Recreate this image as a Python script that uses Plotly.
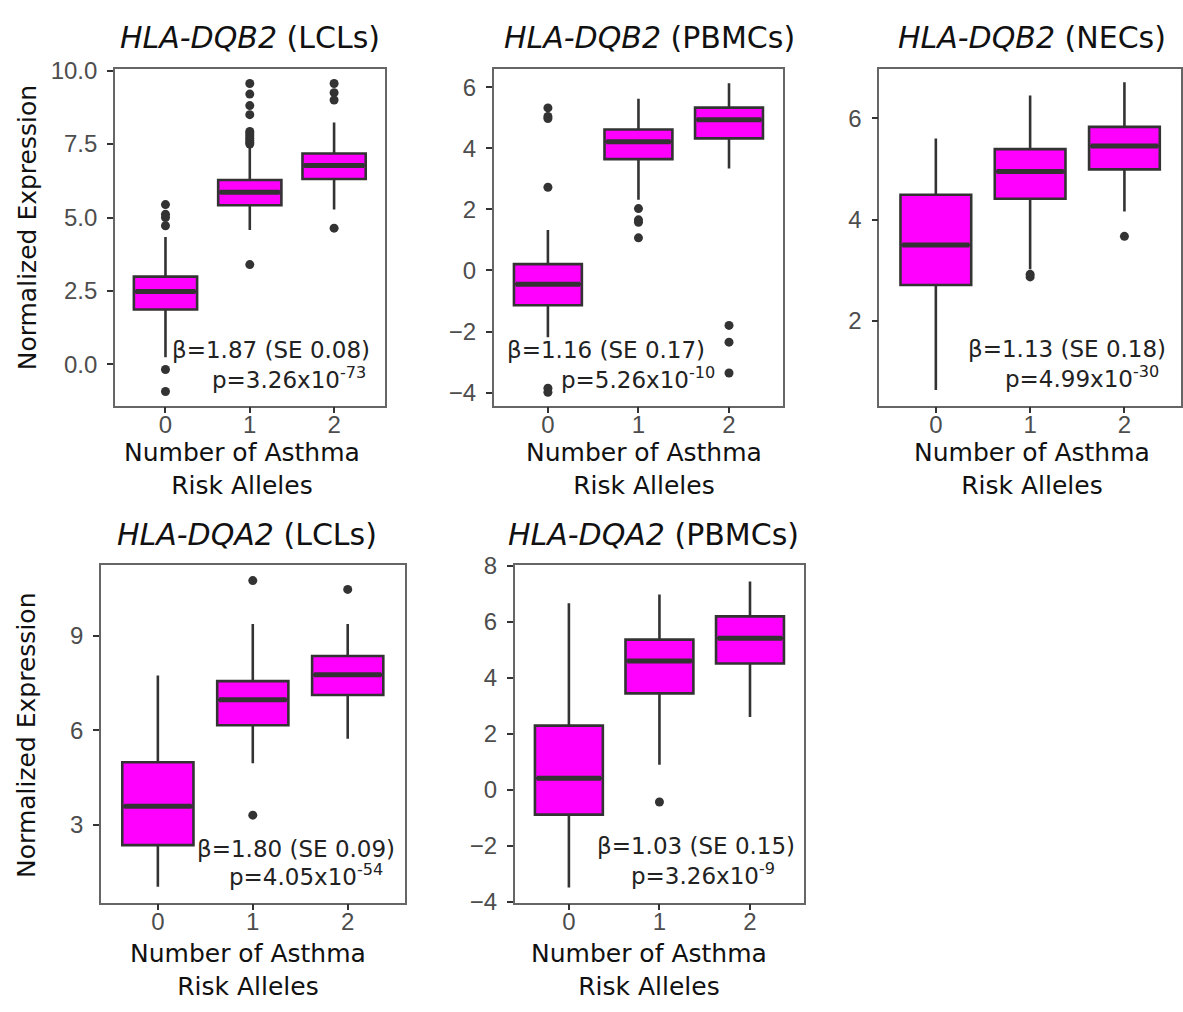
import plotly.graph_objects as go

W, H = 1183, 1012

# Genotype categories (number of asthma risk alleles)
categories = [0, 1, 2]
category_labels = ["0", "1", "2"]

# HLA-DQB2, LCLs
dqb2_lcl_q1 = [1.87, 5.42, 6.31]
dqb2_lcl_median = [2.48, 5.86, 6.77]
dqb2_lcl_q3 = [2.99, 6.28, 7.18]
dqb2_lcl_lower = [0.25, 4.58, 5.27]
dqb2_lcl_upper = [4.34, 7.43, 8.23]
dqb2_lcl_out_x = [0, 0, 0, 0, 0, 0,
                  1, 1, 1, 1, 1, 1, 1, 1, 1, 1, 1, 1,
                  2, 2, 2, 2]
dqb2_lcl_out_y = [5.44, 5.11, 5.00, 4.72, -0.17, -0.92,
                  9.56, 9.20, 8.81, 8.50, 7.93, 7.86, 7.78, 7.70, 7.62, 7.55, 7.50, 3.40,
                  9.56, 9.25, 9.00, 4.64]

# HLA-DQB2, PBMCs
dqb2_pbmc_q1 = [-1.14, 3.65, 4.33]
dqb2_pbmc_median = [-0.45, 4.22, 4.94]
dqb2_pbmc_q3 = [0.21, 4.62, 5.34]
dqb2_pbmc_lower = [-2.19, 2.32, 3.34]
dqb2_pbmc_upper = [1.33, 5.63, 6.14]
dqb2_pbmc_out_x = [0, 0, 0, 0, 0, 0, 1, 1, 1, 1, 2, 2, 2]
dqb2_pbmc_out_y = [5.33, 5.05, 4.98, 2.73, -3.86, -3.99,
                   2.03, 1.66, 1.58, 1.07, -1.80, -2.35, -3.36]

# HLA-DQB2, NECs
dqb2_nec_q1 = [2.71, 4.41, 4.99]
dqb2_nec_median = [3.50, 4.95, 5.45]
dqb2_nec_q3 = [4.49, 5.39, 5.83]
dqb2_nec_lower = [0.64, 3.02, 4.16]
dqb2_nec_upper = [5.60, 6.45, 6.71]
dqb2_nec_out_x = [1, 1, 2]
dqb2_nec_out_y = [2.92, 2.87, 3.67]

# HLA-DQA2, LCLs
dqa2_lcl_q1 = [2.36, 6.16, 7.12]
dqa2_lcl_median = [3.59, 6.97, 7.76]
dqa2_lcl_q3 = [4.99, 7.56, 8.36]
dqa2_lcl_lower = [1.04, 4.96, 5.73]
dqa2_lcl_upper = [7.74, 9.37, 9.37]
dqa2_lcl_out_x = [1, 1, 2]
dqa2_lcl_out_y = [10.75, 3.31, 10.47]

# HLA-DQA2, PBMCs
dqa2_pbmc_q1 = [-0.89, 3.44, 4.51]
dqa2_pbmc_median = [0.41, 4.60, 5.41]
dqa2_pbmc_q3 = [2.29, 5.36, 6.19]
dqa2_pbmc_lower = [-3.49, 0.89, 2.60]
dqa2_pbmc_upper = [6.66, 6.97, 7.44]
dqa2_pbmc_out_x = [1]
dqa2_pbmc_out_y = [-0.44]

# Regression results shown in each panel
betas = ["1.87", "1.16", "1.13", "1.80", "1.03"]
ses = ["0.08", "0.17", "0.18", "0.09", "0.15"]
p_mantissas = ["3.26", "5.26", "4.99", "4.05", "3.26"]
p_exponents = ["-73", "-10", "-30", "-54", "-9"]

genes = ["HLA-DQB2", "HLA-DQB2", "HLA-DQB2", "HLA-DQA2", "HLA-DQA2"]
tissues = ["LCLs", "PBMCs", "NECs", "LCLs", "PBMCs"]

y_ticks = [
    ([0, 2.5, 5, 7.5, 10], ["0.0", "2.5", "5.0", "7.5", "10.0"]),
    ([-4, -2, 0, 2, 4, 6], None),
    ([2, 4, 6], None),
    ([3, 6, 9], None),
    ([-4, -2, 0, 2, 4, 6, 8], None),
]

stats = [
    (dqb2_lcl_q1, dqb2_lcl_median, dqb2_lcl_q3, dqb2_lcl_lower, dqb2_lcl_upper, dqb2_lcl_out_x, dqb2_lcl_out_y),
    (dqb2_pbmc_q1, dqb2_pbmc_median, dqb2_pbmc_q3, dqb2_pbmc_lower, dqb2_pbmc_upper, dqb2_pbmc_out_x, dqb2_pbmc_out_y),
    (dqb2_nec_q1, dqb2_nec_median, dqb2_nec_q3, dqb2_nec_lower, dqb2_nec_upper, dqb2_nec_out_x, dqb2_nec_out_y),
    (dqa2_lcl_q1, dqa2_lcl_median, dqa2_lcl_q3, dqa2_lcl_lower, dqa2_lcl_upper, dqa2_lcl_out_x, dqa2_lcl_out_y),
    (dqa2_pbmc_q1, dqa2_pbmc_median, dqa2_pbmc_q3, dqa2_pbmc_lower, dqa2_pbmc_upper, dqa2_pbmc_out_x, dqa2_pbmc_out_y),
]

# ---- layout (pixel geometry of each panel) ----
panel_px = [  # x0, x1, y0, y1 in pixels from top-left
    (115, 385, 57, 403),
    (494, 784, 57, 403),
    (880, 1182, 57, 403),
    (101, 405, 567, 913),
    (515, 805, 567, 913),
]
y_ranges = [(-1.40, 10.07), (-4.43, 6.62), (0.33, 6.98), (0.54, 11.23), (-4.03, 8.01)]
title_pos = [(250, 25), (650, 25), (1033, 25), (247, 535), (654, 535)]
xtitle_pos = [(242, 468), (645, 468), (1033, 468), (248, 982), (650, 982)]
ytitle_pos = [(27, 220), (27, 741)]
stat_pos = [  # (right edge line1, y line1, right edge line2, y line2)
    (372, 346, 368, 375),
    (708, 346, 718, 375),
    (1169, 345, 1162, 374),
    (397, 858, 385, 885),
    (798, 855, 778, 884),
]

def fx(px):
    return px / W

def fy(py):
    return 1 - py / H

BOX_W = 0.75
MAGENTA = "#FF00FF"
DARK = "#333333"
TEXT_FONT = "DejaVu Sans, Verdana, sans-serif"
TICK_FONT = "Liberation Sans, Arial, sans-serif"

fig = go.Figure()
layout = {}
annotations = []

for i, (q1, med, q3, lo, hi, ox, oy) in enumerate(stats):
    n = i + 1
    xa = "x" if n == 1 else f"x{n}"
    ya = "y" if n == 1 else f"y{n}"

    fig.add_trace(go.Box(
        x=categories, q1=q1, median=med, q3=q3,
        lowerfence=lo, upperfence=hi,
        width=BOX_W, whiskerwidth=0, boxpoints=False,
        fillcolor=MAGENTA, line=dict(color=DARK, width=2.6),
        xaxis=xa, yaxis=ya, showlegend=False, hoverinfo="skip",
    ))

    # thicker median bar, as in ggplot's fatten
    mx, my = [], []
    for c, m in zip(categories, med):
        mx += [c - BOX_W / 2 + 0.02, c + BOX_W / 2 - 0.02, None]
        my += [m, m, None]
    fig.add_trace(go.Scatter(
        x=mx, y=my, mode="lines", line=dict(color=DARK, width=5),
        xaxis=xa, yaxis=ya, showlegend=False, hoverinfo="skip",
    ))

    fig.add_trace(go.Scatter(
        x=ox, y=oy, mode="markers",
        marker=dict(color=DARK, size=9, line=dict(width=0)),
        xaxis=xa, yaxis=ya, showlegend=False, hoverinfo="skip",
    ))

    x0, x1, y0, y1 = panel_px[i]
    tv, tt = y_ticks[i]
    axis_common = dict(
        showline=True, mirror=True, linecolor="#666666", linewidth=1.5,
        showgrid=False, zeroline=False,
        ticks="outside", ticklen=6, tickwidth=2, tickcolor=DARK,
        tickfont=dict(family=TICK_FONT, size=24, color="#4D4D4D"),
    )
    layout[f"xaxis{'' if n == 1 else n}"] = dict(
        domain=[fx(x0), fx(x1)], anchor=ya, range=[-0.6, 2.6],
        tickvals=categories, ticktext=category_labels,
        ticklabelstandoff=-9, **axis_common,
    )
    ydict = dict(domain=[fy(y1), fy(y0)], anchor=xa, range=list(y_ranges[i]),
                 tickvals=tv, ticklabelstandoff=5, **axis_common)
    if tt is not None:
        ydict["ticktext"] = tt
    layout[f"yaxis{'' if n == 1 else n}"] = ydict

    # panel title
    tx, ty = title_pos[i]
    annotations.append(dict(
        x=fx(tx), y=fy(ty), xref="paper", yref="paper", showarrow=False,
        xanchor="center", yanchor="middle",
        text=f"<i>{genes[i]}</i> ({tissues[i]})",
        font=dict(family=TEXT_FONT, size=30, color="#111111"),
    ))
    # x-axis title
    ax, ay = xtitle_pos[i]
    annotations.append(dict(
        x=fx(ax), y=fy(ay), xref="paper", yref="paper", showarrow=False,
        xanchor="center", yanchor="middle",
        text="Number of Asthma<br>Risk Alleles",
        font=dict(family=TEXT_FONT, size=25, color="#111111"),
    ))
    # regression statistics
    r1, l1, r2, l2 = stat_pos[i]
    annotations.append(dict(
        x=fx(r1), y=fy(l1), xref="paper", yref="paper", showarrow=False,
        xanchor="right", yanchor="middle",
        text=f"β={betas[i]} (SE {ses[i]})",
        font=dict(family=TEXT_FONT, size=23, color="#222222"),
    ))
    annotations.append(dict(
        x=fx(r2), y=fy(l2), xref="paper", yref="paper", showarrow=False,
        xanchor="right", yanchor="middle",
        text=f"p={p_mantissas[i]}x10<sup>{p_exponents[i]}</sup>",
        font=dict(family=TEXT_FONT, size=23, color="#222222"),
    ))

for (yx, yy) in ytitle_pos:
    annotations.append(dict(
        x=fx(yx), y=fy(yy), xref="paper", yref="paper", showarrow=False,
        xanchor="center", yanchor="middle", textangle=-90,
        text="Normalized Expression",
        font=dict(family=TEXT_FONT, size=25, color="#111111"),
    ))

fig.update_layout(
    width=W, height=H,
    margin=dict(l=0, r=0, t=0, b=0),
    paper_bgcolor="white", plot_bgcolor="white",
    annotations=annotations,
    **layout,
)

fig.write_html("out.html")
